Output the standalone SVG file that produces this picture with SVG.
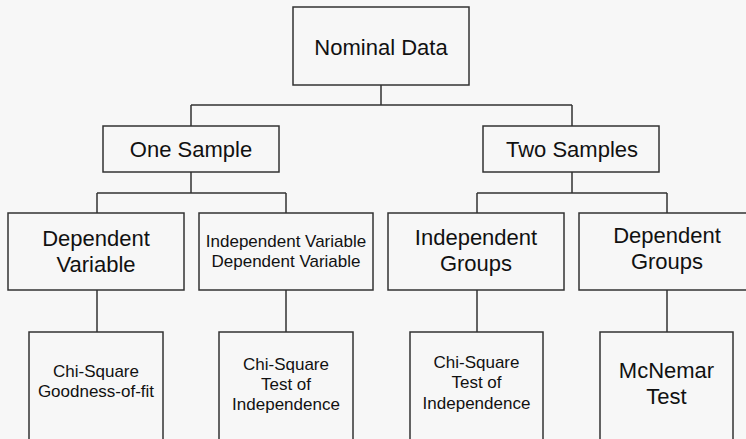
<svg xmlns="http://www.w3.org/2000/svg" width="746" height="439" viewBox="0 0 746 439">
<style>
.box{fill:#f7f7f7;stroke:#333;stroke-width:1.5}
.ln{fill:none;stroke:#333;stroke-width:1.5}
text{font-family:"Liberation Sans",Arial,sans-serif;fill:#111;text-anchor:middle}
.l{font-size:22px}
.s{font-size:17px}
</style>
<rect x="0" y="0" width="746" height="439" fill="#f7f7f7"/>
<g id="connectors">
<path class="ln" d="M381 85V105M191 105H572M191 105V126M572 105V126"/>
<path class="ln" d="M191 172V193M97 193H286M97 193V213M286 193V213"/>
<path class="ln" d="M572 172V193M477 193H667M477 193V213M667 193V213"/>
<path class="ln" d="M97 290V332M286 290V332M477 290V332M667 290V332"/>
</g>
<g id="nominal"><rect class="box" x="293" y="7" width="176" height="78"/><text class="l" x="381" y="55">Nominal Data</text></g>
<g id="one-sample"><rect class="box" x="103" y="126" width="176" height="46"/><text class="l" x="191" y="157">One Sample</text></g>
<g id="two-samples"><rect class="box" x="483" y="126" width="176" height="46"/><text class="l" x="572" y="157">Two Samples</text></g>
<g id="dep-var"><rect class="box" x="8" y="213" width="176" height="77"/><text class="l" x="96" y="246">Dependent</text><text class="l" x="96" y="272">Variable</text></g>
<g id="indep-dep-var"><rect class="box" x="199" y="213" width="174" height="77"/><text class="s" x="286" y="247">Independent Variable</text><text class="s" x="286" y="267">Dependent Variable</text></g>
<g id="indep-groups"><rect class="box" x="388" y="213" width="176" height="77"/><text class="l" x="476" y="245">Independent</text><text class="l" x="476" y="271">Groups</text></g>
<g id="dep-groups"><rect class="box" x="579" y="213" width="176" height="77"/><text class="l" x="667" y="243">Dependent</text><text class="l" x="667" y="269">Groups</text></g>
<g id="chi-gof"><rect class="box" x="29" y="332" width="134" height="120"/><text class="s" x="96" y="377">Chi-Square</text><text class="s" x="96" y="397">Goodness-of-fit</text></g>
<g id="chi-ind-1"><rect class="box" x="219" y="332" width="134" height="120"/><text class="s" x="286" y="370">Chi-Square</text><text class="s" x="286" y="390">Test of</text><text class="s" x="286" y="410">Independence</text></g>
<g id="chi-ind-2"><rect class="box" x="410" y="332" width="133" height="120"/><text class="s" x="476.5" y="368">Chi-Square</text><text class="s" x="476.5" y="388">Test of</text><text class="s" x="476.5" y="409">Independence</text></g>
<g id="mcnemar"><rect class="box" x="600" y="332" width="133" height="120"/><text class="l" x="666.5" y="378">McNemar</text><text class="l" x="666.5" y="404">Test</text></g>
</svg>
